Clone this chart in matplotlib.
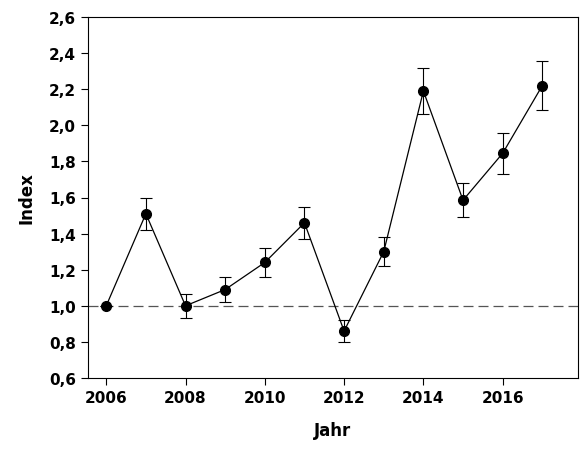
import matplotlib.pyplot as plt
from matplotlib.ticker import FuncFormatter

years = [2006, 2007, 2008, 2009, 2010, 2011, 2012, 2013, 2014, 2015, 2016, 2017]
index = [1.0, 1.51, 1.0, 1.09, 1.24, 1.46, 0.86, 1.30, 2.19, 1.585, 1.845, 2.22]
err = [0.0, 0.09, 0.065, 0.07, 0.08, 0.09, 0.06, 0.08, 0.13, 0.095, 0.115, 0.135]

fig = plt.figure(figsize=(5.81, 4.52), dpi=100)
ax = fig.add_axes([88/581, 1-379/452, 490/581, 361/452])

ax.axhline(1.0, color='#555555', lw=0.9, ls=(0, (8, 4)), zorder=1)
ax.errorbar(years, index, yerr=err, fmt='-o', color='black', lw=0.9,
            ms=7, capsize=4, elinewidth=0.8, capthick=0.8, zorder=3)

ax.set_xlim(2005.54, 2017.9)
ax.set_ylim(0.6, 2.6)
ax.set_xticks(range(2006, 2017, 2))
ax.set_yticks([0.6 + 0.2*i for i in range(11)])
ax.yaxis.set_major_formatter(FuncFormatter(lambda v, p: f'{v:.1f}'.replace('.', ',')))
ax.tick_params(direction='out', length=5, labelsize=11)
for lab in ax.get_xticklabels() + ax.get_yticklabels():
    lab.set_fontweight('bold')
ax.set_xlabel('Jahr', fontsize=12, fontweight='bold', labelpad=12)
ax.set_ylabel('Index', fontsize=12, fontweight='bold', labelpad=10)

fig.savefig('out.png', dpi=100)
